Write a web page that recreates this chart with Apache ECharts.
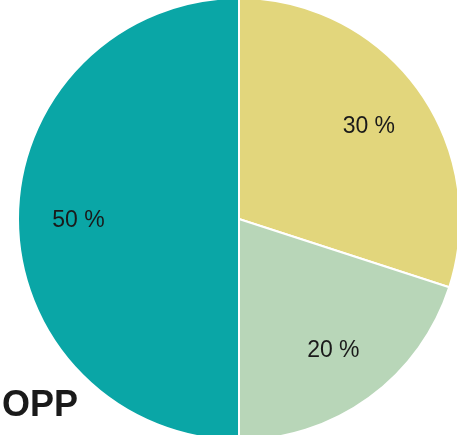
<!DOCTYPE html>
<html><head><meta charset="utf-8">
<script src="https://cdn.jsdelivr.net/npm/echarts@6/dist/echarts.min.js"></script>
<style>html,body{margin:0;padding:0;background:#fff}#c{width:457px;height:435px}</style>
</head><body><div id="c"></div>
<script>
const categories = ['A', 'B', 'C'];
const values = [30, 20, 50];
const colors = ['#E2D67C', '#B8D6B8', '#0AA6A6'];
const title = 'OPP';

const chart = echarts.init(document.getElementById('c'), null, {renderer: 'canvas'});
const data = categories.map((n, i) => ({name: n, value: values[i], itemStyle: {color: colors[i]}}));
chart.setOption({
  animation: false,
  graphic: [{type: 'text', left: 2, top: 388, style: {text: title, font: 'bold 36px "Liberation Sans", Arial, sans-serif', fill: '#1a1a1a'}}],
  series: [
    {
      type: 'pie', center: [239, 219], radius: [0, 221], startAngle: 90, clockwise: true,
      label: {show: false}, labelLine: {show: false},
      itemStyle: {borderColor: '#fff', borderWidth: 2},
      emphasis: {disabled: true},
      data: data
    },
    {
      type: 'pie', center: [239, 221], radius: [94, 221], startAngle: 90, clockwise: true,
      silent: true,
      itemStyle: {color: 'transparent'},
      label: {show: true, position: 'inside', formatter: p => p.value + ' %', color: '#1a1a1a', fontSize: 23, fontFamily: '"Liberation Sans", Arial, sans-serif'},
      labelLine: {show: false},
      data: categories.map((n, i) => ({name: n, value: values[i]}))
    }
  ]
});
</script></body></html>
